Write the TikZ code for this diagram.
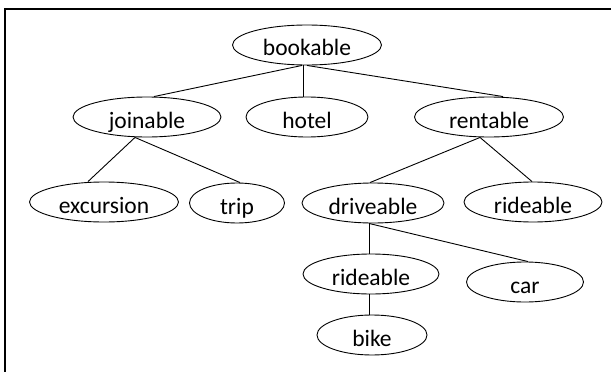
\documentclass[tikz,border=0pt]{standalone}
\usepackage{fontspec}
\setmainfont{Carlito}
\usetikzlibrary{shapes.geometric}

\tikzset{
    class/.style={draw, ellipse, line width=0.9pt, inner sep=0pt,
        minimum height=40pt, text height=24pt, text depth=2pt,
        font=\fontsize{23.5}{26}\selectfont},
    link/.style={line width=0.9pt}
}

\begin{document}
\begin{tikzpicture}[x=1pt, y=-1pt]
        \useasboundingbox (0,0) rectangle (611,372);

        % Frame (only top and left edges inside the page)
        \draw[line width=1.3pt] (5,380) -- (5,9) -- (620,9);

        % Root
        \node[class, minimum width=149pt] (bookable) at (307,45) {bookable};

        % Second level
        \node[class, minimum width=148pt] (joinable) at (147,117) {joinable};
        \node[class, minimum width=122pt] (hotel) at (307,117) {hotel};
        \node[class, minimum width=149pt] (rentable) at (489,117) {rentable};

        % Third level
        \node[class, minimum width=149pt] (excursion) at (104,202) {excursion};
        \node[class, minimum width=95pt] (trip) at (237,203) {trip};
        \node[class, minimum width=142pt] (driveable) at (373,203) {driveable};
        \node[class, minimum width=138pt] (rideableA) at (533,202) {rideable};

        % Fourth and fifth level
        \node[class, minimum width=136pt] (rideableB) at (371,274) {rideable};
        \node[class, minimum width=117pt] (car) at (525,282) {car};
        \node[class, minimum width=110pt] (bike) at (372,335) {bike};

        % Links
        \draw[link] ([xshift=-5pt]bookable.south) -- ([xshift=7pt]joinable.north);
        \draw[link] ([xshift=-4pt]bookable.south) -- ([xshift=-4pt]hotel.north);
        \draw[link] (bookable.south) -- ([xshift=14pt]rentable.north);
        \draw[link] ([xshift=-12pt]joinable.south) -- ([xshift=-16pt]excursion.north);
        \draw[link] ([xshift=-12pt]joinable.south) -- ([xshift=3pt]trip.north);
        \draw[link] ([xshift=-9pt]rentable.south) -- ([xshift=-3pt]driveable.north);
        \draw[link] ([xshift=-9pt]rentable.south) -- ([xshift=-1pt]rideableA.north);
        \draw[link] ([xshift=-4pt]driveable.south) -- ([xshift=-2pt]rideableB.north);
        \draw[link] ([xshift=-4pt]driveable.south) -- ([xshift=3pt]car.north);
        \draw[link] ([xshift=-2pt]rideableB.south) -- ([xshift=-3pt]bike.north);
    \end{tikzpicture}
\end{document}
